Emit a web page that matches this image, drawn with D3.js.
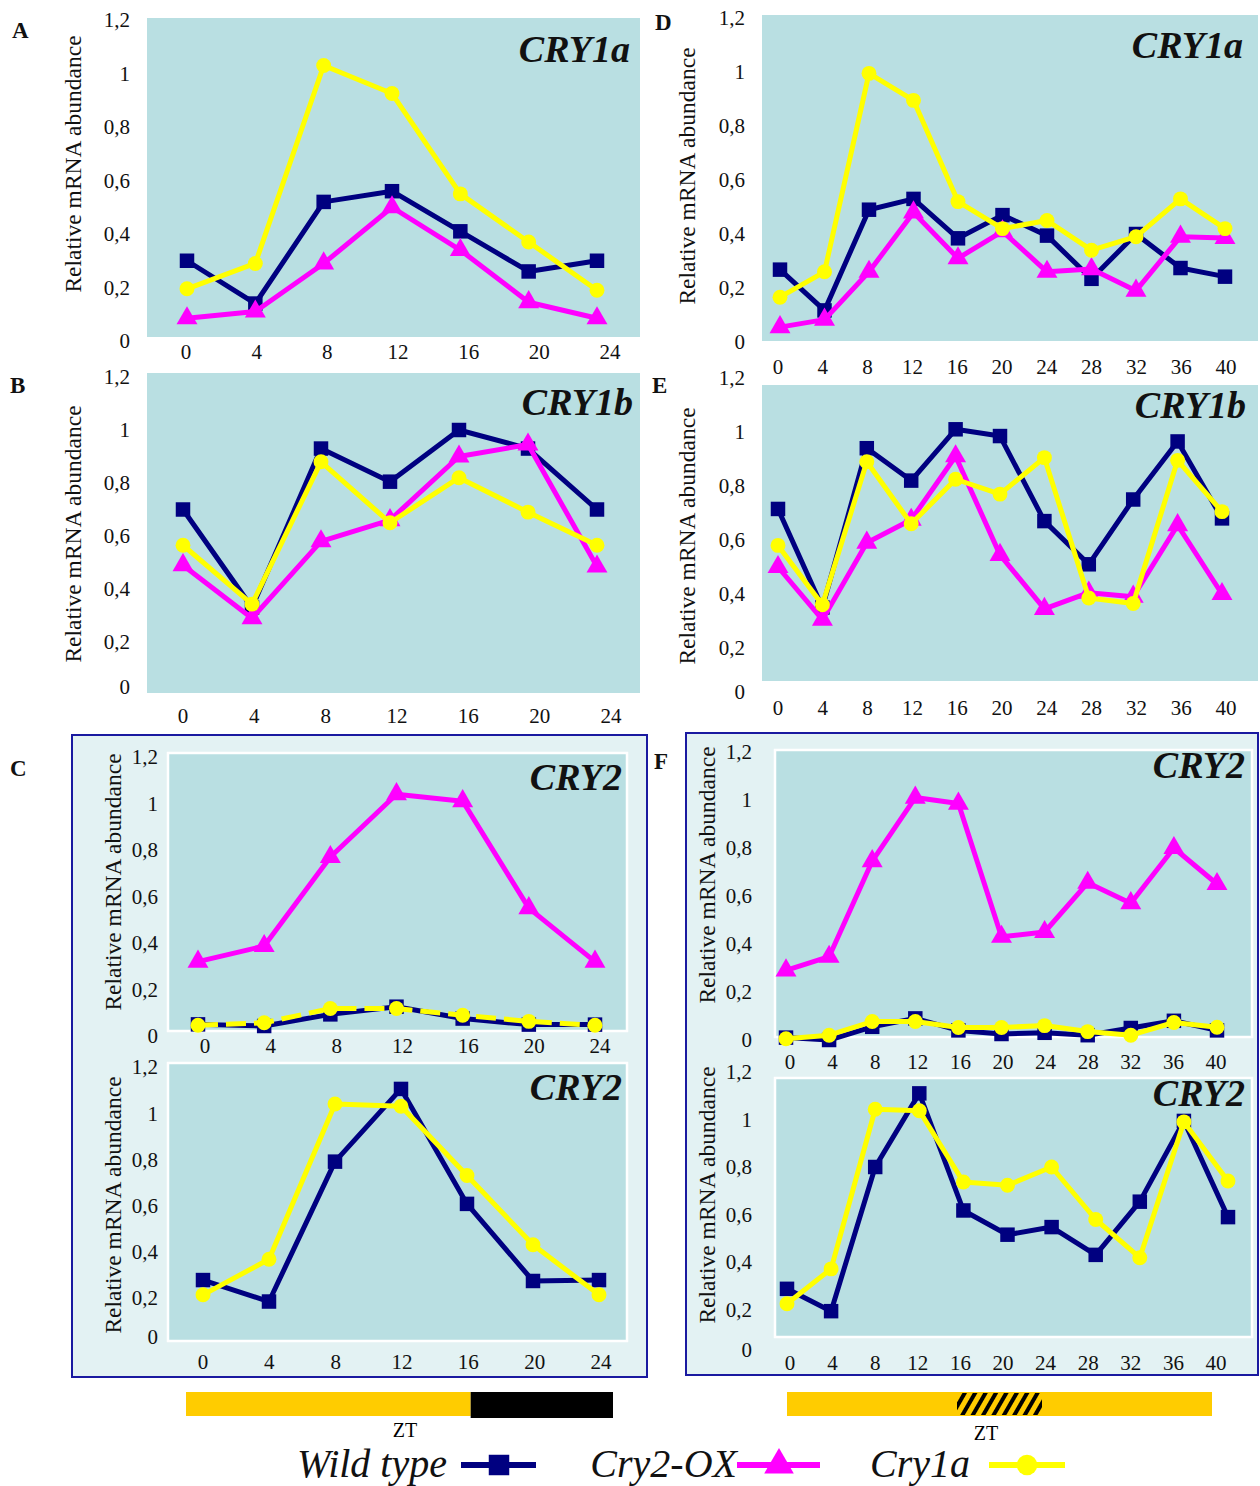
<!DOCTYPE html>
<html><head><meta charset="utf-8">
<script src="https://cdn.jsdelivr.net/npm/d3@7"></script>
<style>body{margin:0;background:#fff}</style>
</head><body><svg id="c" width="1260" height="1486"></svg>
<script>
// ---------- DATA ----------
const hoursLD = [0,4,8,12,16,20,24];
const hoursLL = [0,4,8,12,16,20,24,28,32,36,40];
const yTicks = [0,0.2,0.4,0.6,0.8,1,1.2];
const yTickLabels = ["0","0,2","0,4","0,6","0,8","1","1,2"];
const seriesNames = ["Wild type","Cry2-OX","Cry1a"];
const yAxisTitle = "Relative mRNA abundance";
const xAxisTitle = "ZT";

// A: CRY1a, LD
const aWT = [0.30,0.14,0.52,0.56,0.41,0.26,0.30];
const aOX = [0.085,0.11,0.29,0.50,0.34,0.145,0.085];
const aC1 = [0.195,0.29,1.03,0.925,0.55,0.37,0.19];
// B: CRY1b, LD
const bWT = [0.70,0.33,0.93,0.805,1.0,0.93,0.70];
const bOX = [0.49,0.29,0.58,0.66,0.90,0.945,0.485];
const bC1 = [0.565,0.343,0.88,0.65,0.82,0.69,0.565];
// C: CRY2, LD
const cTopWT = [0.05,0.043,0.093,0.126,0.075,0.049,0.049];
const cTopOX = [0.32,0.387,0.77,1.04,1.01,0.55,0.32];
const cTopC1 = [0.046,0.057,0.118,0.118,0.089,0.063,0.046];
const cBotWT = [0.277,0.184,0.79,1.105,0.607,0.273,0.277];
const cBotC1 = [0.213,0.367,1.04,1.03,0.73,0.43,0.213];
// D: CRY1a, LL
const dWT = [0.268,0.117,0.49,0.53,0.384,0.47,0.394,0.234,0.40,0.274,0.242];
const dOX = [0.055,0.083,0.26,0.48,0.31,0.41,0.26,0.27,0.19,0.39,0.385];
const dC1 = [0.166,0.26,0.995,0.895,0.52,0.42,0.45,0.34,0.39,0.53,0.42];
// E: CRY1b, LL
const eWT = [0.715,0.35,0.94,0.82,1.01,0.985,0.67,0.51,0.75,0.965,0.68];
const eOX = [0.50,0.305,0.59,0.675,0.91,0.545,0.345,0.405,0.39,0.655,0.40];
const eC1 = [0.58,0.36,0.89,0.66,0.825,0.77,0.905,0.385,0.365,0.895,0.705];
// F: CRY2, LL
const fTopWT = [0.01,0.0,0.055,0.09,0.04,0.025,0.03,0.02,0.05,0.08,0.04];
const fTopOX = [0.29,0.347,0.745,1.01,0.985,0.43,0.45,0.655,0.57,0.80,0.65];
const fTopC1 = [0.005,0.02,0.077,0.077,0.052,0.052,0.06,0.035,0.02,0.073,0.053];
const fBotWT = [0.287,0.193,0.80,1.11,0.617,0.515,0.547,0.43,0.654,0.994,0.589];
const fBotC1 = [0.224,0.371,1.043,1.037,0.737,0.723,0.80,0.579,0.418,0.99,0.741];

// light regime bars (ZT)
const ldDomain = [0,24];
const ldLight = [0,16];
const ldDark = [16,24];
const llDomain = [0,40];
const llSubjNight = [16,24];

// ---------- STYLE / LAYOUT ----------
const colors = ["#000080","#ff00ff","#ffff00"];
const symbols = [d3.symbolSquare, d3.symbolTriangle, d3.symbolCircle];
const symSizes = [210, 190, 175];
const serif = "'Liberation Serif','Times New Roman',serif";
const plotBg = "#b9dfe2";

const panels = [
 {letter:"A", lp:[12,38], title:"CRY1a", tp:[630,62], hours:hoursLD, bg:[147,18,640,337], px:[187,597], lbx:[186,610], lby:352, yr:[341,20], ylx:130, zeroY:null, yt:[73,164], bgStroke:false,
  series:[[aWT,0],[aOX,1],[aC1,2]]},
 {letter:"B", lp:[10,393], title:"CRY1b", tp:[633,415], hours:hoursLD, bg:[147,373,640,693], px:[183,597], lbx:[183,611], lby:716, yr:[695,377], ylx:130, zeroY:687, yt:[73,534], bgStroke:false,
  series:[[bWT,0],[bOX,1],[bC1,2]]},
 {letter:"C", lp:[10,776], title:"CRY2", tp:[622,790], hours:hoursLD, bg:[168,753,627,1031], px:[198,595], lbx:[205,600], lby:1046, yr:[1036,757], ylx:158, zeroY:null, yt:[113,882], bgStroke:true,
  series:[[cTopWT,0],[cTopOX,1],[cTopC1,2,"20,8"]]},
 {letter:null, title:"CRY2", tp:[622,1100], hours:hoursLD, bg:[168,1063,627,1341], px:[203,599], lbx:[203,601], lby:1362, yr:[1344,1067], ylx:158, zeroY:1337, yt:[113,1205], bgStroke:true,
  series:[[cBotWT,0],[cBotC1,2]]},
 {letter:"D", lp:[655,30], title:"CRY1a", tp:[1243,58], hours:hoursLL, bg:[762,15,1258,341], px:[780,1225], lbx:[778,1226], lby:367, yr:[342,18], ylx:745, zeroY:null, yt:[687,176], bgStroke:false,
  series:[[dWT,0],[dOX,1],[dC1,2]]},
 {letter:"E", lp:[652,393], title:"CRY1b", tp:[1246,418], hours:hoursLL, bg:[762,385,1258,681], px:[778,1222], lbx:[778,1226], lby:708, yr:[702,378], ylx:745, zeroY:692, yt:[687,536], bgStroke:false,
  series:[[eWT,0],[eOX,1],[eC1,2]]},
 {letter:"F", lp:[654,769], title:"CRY2", tp:[1245,778], hours:hoursLL, bg:[775,750,1252,1037], px:[786,1217], lbx:[790,1216], lby:1062, yr:[1040,752], ylx:752, zeroY:null, yt:[707,875], bgStroke:true,
  series:[[fTopWT,0],[fTopOX,1],[fTopC1,2]]},
 {letter:null, title:"CRY2", tp:[1245,1106], hours:hoursLL, bg:[775,1078,1252,1337], px:[787,1228], lbx:[790,1216], lby:1363, yr:[1357,1072], ylx:752, zeroY:1350, yt:[707,1195], bgStroke:true,
  series:[[fBotWT,0],[fBotC1,2]]}
];

const svg = d3.select("#c");

// defs: hatch pattern
const defs = svg.append("defs");
const pat = defs.append("pattern").attr("id","hatch").attr("patternUnits","userSpaceOnUse")
  .attr("width",9).attr("height",9).attr("patternTransform","rotate(30)");
pat.append("rect").attr("width",9).attr("height",9).attr("fill","#ffcc00");
pat.append("rect").attr("width",4).attr("height",9).attr("fill","#000");

// outer boxes for C and F
svg.append("rect").attr("x",72).attr("y",735).attr("width",575).attr("height",642)
  .attr("fill","#e3f2f3").attr("stroke","#1a1aa0").attr("stroke-width",2);
svg.append("rect").attr("x",686).attr("y",733).attr("width",572).attr("height",642)
  .attr("fill","#e3f2f3").attr("stroke","#1a1aa0").attr("stroke-width",2);

panels.forEach(p => {
  const g = svg.append("g");
  const [x0,y0,x1,y1] = p.bg;
  g.append("rect").attr("x",x0).attr("y",y0).attr("width",x1-x0).attr("height",y1-y0)
    .attr("fill",plotBg).attr("stroke",p.bgStroke?"#fff":"none").attr("stroke-width",2.5);
  const maxH = p.hours[p.hours.length-1];
  const x = d3.scaleLinear().domain([0,maxH]).range(p.px);
  const xl = d3.scaleLinear().domain([0,maxH]).range(p.lbx);
  const y = d3.scaleLinear().domain([0,1.2]).range(p.yr);

  // y tick labels
  g.selectAll("text.yt").data(yTicks).enter().append("text")
    .attr("x",p.ylx).attr("y",(d,i)=> (i===0 && p.zeroY!==null) ? p.zeroY : y(d))
    .attr("dy","0.35em").attr("text-anchor","end")
    .attr("font-family",serif).attr("font-size",21).attr("fill","#111")
    .text((d,i)=>yTickLabels[i]);
  // x tick labels
  g.selectAll("text.xt").data(p.hours).enter().append("text")
    .attr("x",d=>xl(d)).attr("y",p.lby).attr("dy","0.35em").attr("text-anchor","middle")
    .attr("font-family",serif).attr("font-size",21).attr("fill","#111")
    .text(d=>d);
  // y title
  g.append("text").attr("transform",`translate(${p.yt[0]},${p.yt[1]}) rotate(-90)`)
    .attr("text-anchor","middle").attr("dy","0.35em")
    .attr("font-family",serif).attr("font-size",23.5).attr("fill","#111").text(yAxisTitle);
  // title
  g.append("text").attr("x",p.tp[0]).attr("y",p.tp[1]).attr("text-anchor","end")
    .attr("font-family",serif).attr("font-style","italic").attr("font-weight","bold")
    .attr("font-size",38).attr("fill","#111").text(p.title);
  if (p.letter) {
    g.append("text").attr("x",p.lp[0]).attr("y",p.lp[1])
      .attr("font-family",serif).attr("font-weight","bold").attr("font-size",23).attr("fill","#111").text(p.letter);
  }
  // series
  const line = d3.line().x((d,i)=>x(p.hours[i])).y(d=>y(d));
  p.series.forEach(([vals, si, dash]) => {
    g.append("path").datum(vals).attr("d",line).attr("fill","none")
      .attr("stroke",colors[si]).attr("stroke-width",5).attr("stroke-linejoin","round")
      .attr("stroke-dasharray",dash||null);
    g.selectAll(null).data(vals).enter().append("path")
      .attr("transform",(d,i)=>`translate(${x(p.hours[i])},${y(d)})`)
      .attr("d",d3.symbol().type(symbols[si]).size(symSizes[si]))
      .attr("fill",colors[si]);
  });
});

// light regime bars
const ldX = d3.scaleLinear().domain(ldDomain).range([186,613]);
svg.append("rect").attr("x",ldX(ldLight[0])).attr("y",1392).attr("width",ldX(ldLight[1])-ldX(ldLight[0])).attr("height",24).attr("fill","#ffcc00");
svg.append("rect").attr("x",ldX(ldDark[0])).attr("y",1392).attr("width",ldX(ldDark[1])-ldX(ldDark[0])).attr("height",26).attr("fill","#000");
svg.append("text").attr("x",405).attr("y",1437).attr("text-anchor","middle").attr("font-family",serif).attr("font-size",20).text(xAxisTitle);

const llX = d3.scaleLinear().domain(llDomain).range([787,1212]);
svg.append("rect").attr("x",llX(llDomain[0])).attr("y",1392).attr("width",llX(llDomain[1])-llX(llDomain[0])).attr("height",24).attr("fill","#ffcc00");
svg.append("rect").attr("x",llX(llSubjNight[0])).attr("y",1393).attr("width",llX(llSubjNight[1])-llX(llSubjNight[0])).attr("height",22).attr("fill","url(#hatch)");
svg.append("text").attr("x",986).attr("y",1440).attr("text-anchor","middle").attr("font-family",serif).attr("font-size",20).text(xAxisTitle);

// legend
const legend = [
  {textEnd:447, l0:461, l1:536, m:499},
  {textEnd:737, l0:737, l1:820, m:779},
  {textEnd:970, l0:989, l1:1065, m:1027}
];
legend.forEach((L,i)=>{
  svg.append("text").attr("x",L.textEnd).attr("y",1477).attr("text-anchor","end")
    .attr("font-family",serif).attr("font-style","italic").attr("font-size",40).attr("fill","#111").text(seriesNames[i]);
  svg.append("line").attr("x1",L.l0).attr("x2",L.l1).attr("y1",1465).attr("y2",1465)
    .attr("stroke",colors[i]).attr("stroke-width",6);
  svg.append("path").attr("transform",`translate(${L.m},${1465})`)
    .attr("d",d3.symbol().type(symbols[i]).size([420,380,330][i])).attr("fill",colors[i]);
});
</script></body></html>
